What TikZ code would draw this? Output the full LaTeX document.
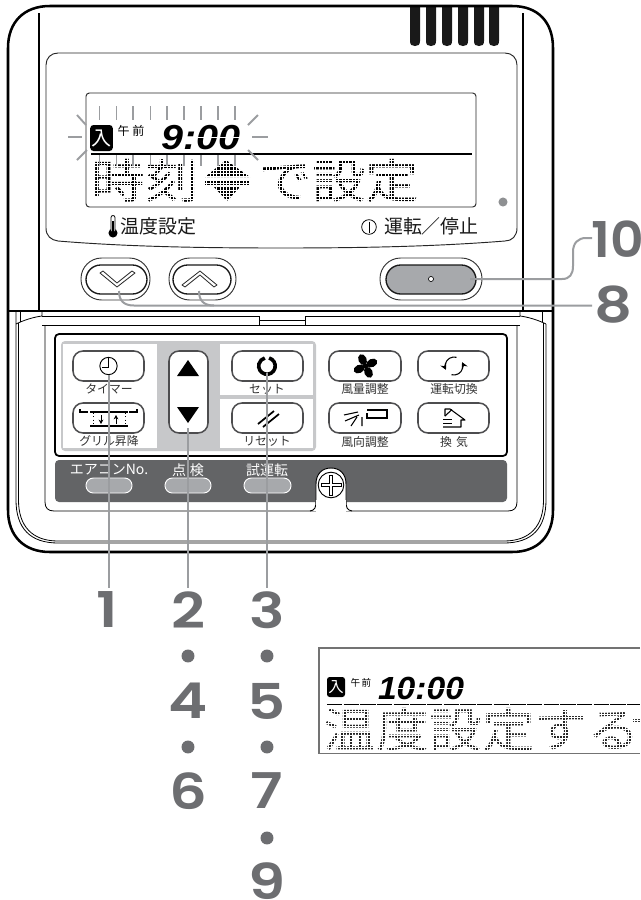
\documentclass[tikz,border=0pt]{standalone}
\usepackage{fontspec}
\usetikzlibrary{arrows.meta}
\newfontfamily\jpf{Noto Sans CJK JP}
\newfontfamily\numf[UprightFont=* SemiBold]{Poppins}
\newfontfamily\segf{Liberation Sans}
\definecolor{leadc}{HTML}{9B9DA0}
\definecolor{numc}{HTML}{6D6E71}
\definecolor{barc}{HTML}{636466}
\definecolor{groupc}{HTML}{C7C8CA}
\definecolor{btnc}{HTML}{A7A9AC}
\definecolor{edgec}{HTML}{4D4D4F}
\newcommand\fs[1]{\fontsize{#1}{#1}\selectfont}
\tikzset{
  x=0.75pt,y=-0.75pt,
  body/.style={line width=1.9pt,black},
  thin line/.style={line width=0.6pt,black},
  leader/.style={draw=leadc,line width=1.5pt},
  keybtn/.style={draw=edgec,line width=1.15pt,fill=white,rounded corners=7.5pt},
  keylabel/.style={font=\jpf\fs{8.9pt},text=black!80,inner sep=0pt},
  barlabel/.style={font=\jpf\fs{10.5pt},text=white,inner sep=0pt},
  smallpill/.style={draw=white,line width=0.7pt,fill=btnc,rounded corners=5.5pt},
  num/.style={font=\numf\fs{37pt},text=numc,inner sep=0pt,xscale=1.2},
  numdot/.style={circle,fill=numc,minimum size=9.7pt,inner sep=0pt},
  ray/.style={draw=leadc,line width=1.4pt},
  lcdjp/.style={font=\jpf\fs{35pt},inner sep=0pt,xscale=1.15},
  panelboxlabel/.style={font=\jpf\fs{14.2pt},inner sep=0pt,text=black!90},
}
\begin{document}
\begin{tikzpicture}
\useasboundingbox (0,0) rectangle (640,900);
\fill[white] (0,0) rectangle (640,900);

%% vent slots
\foreach \a in {410,426,442,458,474,489}{
  \fill[black!90] (\a,5) -- (\a+10,5) -- (\a+10,41) .. controls (\a+10,45) and (\a+8,46) .. (\a+5,46)
     .. controls (\a+2,46) and (\a,45) .. (\a,41) -- cycle;
}
%% outer body
\draw[body] (8,311) -- (8,48) .. controls (8,22) and (24,6) .. (50,6) -- (512,6)
   .. controls (538,6) and (553,22) .. (553,48) -- (553,510)
   .. controls (553,536) and (538,552) .. (512,552) -- (50,552)
   .. controls (24,552) and (8,536) .. (8,510) -- cycle;
\draw[thin line,line width=0.9pt] (39,13) -- (39,311);
\draw[thin line,line width=0.9pt] (523,13) -- (523,311);
\draw[body,line width=1.7pt] (8,311) -- (553,311);

%% lid structure
\draw[thin line] (42,311) -- (42,316) .. controls (34,317) and (24,320) .. (16,324);
\draw[thin line] (20,311) -- (20,322);
\draw[thin line] (16,311) -- (16,500) .. controls (16,528) and (30,543) .. (58,543) -- (504,543)
   .. controls (532,543) and (546,528) .. (546,500) -- (546,324);
\draw[thin line] (18.5,323) -- (18.5,500) .. controls (18.5,526) and (32,541) .. (58,541) -- (504,541)
   .. controls (530,541) and (543.5,526) .. (543.5,500) -- (543.5,323);
\draw[thin line] (542,311) -- (542,322);
\draw[thin line] (520,311) -- (520,316) .. controls (528,317) and (538,320) .. (546,324);
\draw[thin line] (42,316) -- (259,316) -- (259,325) (259,320) -- (305,320) (305,325) -- (305,316) -- (520,316);
\draw[thin line] (42,325) -- (520,325);
\draw[thin line] (45,325) -- (45,502) .. controls (45,508) and (48,511) .. (54,511) -- (508,511)
   .. controls (514,511) and (517,508) .. (517,502) -- (517,325);

%% LCD bezel
\draw[line width=0.7pt,black!85] (46,65) .. controls (46,58) and (51,53) .. (58,53) -- (505,53)
  .. controls (512,53) and (517,58) .. (517,65) -- (517,228) .. controls (517,236) and (512,241) .. (505,241)
  .. controls (430,247) and (350,248) .. (281,248) .. controls (210,248) and (130,247) .. (58,241)
  .. controls (51,240) and (46,236) .. (46,228) -- cycle;
\draw[line width=0.7pt,black!85,rounded corners=2.5pt] (86,93) rectangle (476,207);
\draw[line width=1.2pt,black] (91,154) -- (472,154);

%% LCD top row
\node[fill=black,rounded corners=2.5pt,minimum width=17pt,minimum height=19.5pt,inner sep=0pt,text=white,font=\jpf\fs{15pt}] (lcdicon) at (101.5,138) {入};
\node[font=\jpf\fs{9pt},inner sep=0pt] (ampm) at (131,131) {午\hspace{2pt}前};
\node[font=\segf\bfseries\itshape\fs{26pt},inner sep=0pt,xscale=1.14] (clocktext) at (201,137.5) {9:00};
\draw[white,line width=0.7pt] (198,137.5) -- (242,137.5);

%% LCD dot text
\begin{scope}
  \node[lcdjp] (lcdA) at (145,181) {時刻};
  \node[lcdjp] (lcdB) at (339,181) {で設定};
  \fill[black] (226,160) -- (250,177) -- (205,177) -- cycle;
  \fill[black] (205,181) rectangle (250,185);
  \fill[black] (214,187) -- (240,187) -- (227,201) -- cycle;
  \clip (88,157) rectangle (425,205);
  \foreach \g in {88,91.3,...,425}{\draw[white,line width=0.7pt] (\g,157) -- (\g,205);}
  \foreach \g in {157,160.3,...,205}{\draw[white,line width=0.7pt] (88,\g) -- (425,\g);}
\end{scope}

%% rays
\foreach \a in {99.5,116.5,133,150.5,167,184,201,218,235}{
  \draw[ray] (\a,106) -- (\a,120);
  \draw[ray] (\a,155) -- (\a,166);
}
\draw[ray] (68,137) -- (82,137);
\draw[ray] (77,115) -- (86,125);
\draw[ray] (77,160) -- (87,150);
\draw[ray] (252,137) -- (268,137);
\draw[ray] (248,125) -- (258,115);
\draw[ray] (248,150) -- (258,160);

%% thermometer and panel labels
\fill[black] (113,233) circle[radius=3.4pt];
\draw[black,line width=0.6pt,fill=white] (111,231) -- (111,217.5) arc[start angle=180,end angle=0,radius=1.5pt] -- (115,231);
\fill[black] (112,221) rectangle (114,232);
\node[panelboxlabel,anchor=west] (templabel) at (120,226) {温度設定};
\node[draw=black,line width=0.6pt,circle,minimum size=11pt,inner sep=0pt] (powsym) at (369,227) {};
\draw[line width=0.7pt] (369,221.5) -- (369,232.5);
\node[panelboxlabel,anchor=east] (runlabel) at (479,226) {運転／停止};
\fill[btnc!85!black] (503,202) circle[radius=3.4pt];

%% upper buttons
\draw[line width=0.7pt,black!80,rounded corners=15.5pt] (81,258) rectangle (150,300);
\draw[line width=1pt,black!90,rounded corners=11pt] (86,265) rectangle (147,294);
\draw[line width=0.6pt,black!85,line join=round] (100,273) -- (117,287) -- (135,273) -- (132,271) -- (117,283) -- (103,271) -- cycle;
\draw[line width=0.7pt,black!80,rounded corners=15.5pt] (169,258) rectangle (236,300);
\draw[line width=1pt,black!90,rounded corners=11pt] (173,265) rectangle (231,294);
\draw[line width=0.6pt,black!85,line join=round] (182,285) -- (200,271) -- (217,285) -- (214,287) -- (200,275) -- (185,287) -- cycle;
\draw[line width=0.7pt,black!80,rounded corners=15.5pt] (380,258) rectangle (482,300);
\draw[line width=1pt,black!90,fill=btnc,rounded corners=11pt] (386,265) rectangle (476,294);
\draw[line width=0.5pt,black,fill=white] (431,279) circle[radius=1.9pt];

%% key panel
\draw[line width=1.3pt,black,rounded corners=3pt] (55,334) rectangle (507,456);
\fill[groupc,rounded corners=3pt] (61,341) rectangle (316,451);
\fill[white] (63,344) rectangle (157,448);
\fill[white] (220,344) rectangle (313,395);
\fill[white] (220,399) rectangle (313,448);
\fill[barc,rounded corners=3pt] (55,460) rectangle (507,502);

%% keys
\draw[keybtn] (73,351) rectangle (144,381);
\draw[keybtn] (73,403) rectangle (144,433);
\draw[keybtn] (169,351) rectangle (208,433);
\draw[keybtn] (232,351) rectangle (303,381);
\draw[keybtn] (232,403) rectangle (303,433);
\draw[keybtn] (329,351) rectangle (401,381);
\draw[keybtn] (418,351) rectangle (489,381);
\draw[keybtn] (329,403) rectangle (401,433);
\draw[keybtn] (418,403) rectangle (489,433);

%% key icons
\draw[line width=0.7pt] (108.5,366) circle[radius=6.5pt];
\draw[line width=0.7pt] (108.5,358) -- (108.5,367) -- (102,367);
\fill[black] (188,360) -- (199,376) -- (177,376) -- cycle;
\fill[black] (177,407) -- (199,407) -- (188,423) -- cycle;
\draw[line width=2.7pt] (269.1,358) arc[start angle=75,end angle=-255,radius=6.2pt];
\draw[line width=1.3pt] (258,424) -- (274,411) (263,427) -- (279,414);
%% grille icon
\draw[line width=1.2pt] (80,409) -- (80,412) -- (88,412) (90,412) -- (128,412) (129,412) -- (137,412) -- (137,409);
\draw[line width=1.5pt] (90,425.5) -- (128,425.5);
\draw[line width=0.5pt,dotted] (93,413) -- (93,425) (125,413) -- (125,425);
\draw[line width=0.7pt,-{Stealth[length=3.3pt,width=3.6pt]}] (101,415) -- (101,424);
\draw[line width=0.7pt,-{Stealth[length=3.3pt,width=3.6pt]}] (116,424) -- (116,415);
%% fan
\coordinate (fanc) at (365.5,366);
\foreach \a in {25,115,205,295}{
  \fill[black,rotate around={\a:(fanc)}] (365.5+7,366) ellipse[x radius=4.3pt,y radius=3.1pt];
}
\fill[black] (fanc) circle[radius=2.1pt];
%% cycle arrows
\draw[line width=0.8pt,-{Stealth[length=4.6pt,width=4.8pt]}] (456.5,357.3) arc[start angle=75,end angle=205,radius=6.8pt];
\draw[line width=0.8pt,-{Stealth[length=4.6pt,width=4.8pt]}] (451.5,374.7) arc[start angle=255,end angle=385,radius=6.8pt];
%% air direction icon
\draw[line width=0.8pt] (367,410) -- (387,410) -- (387,418) -- (367,418) -- (367,413);
\draw[line width=0.8pt] (344,415) -- (358,412) (345,421) -- (359,415) (351,426) -- (357,417) (362,417) -- (362,426);
%% house icon
\draw[line width=0.8pt,line join=round] (445,416) -- (445,409) -- (450,409) -- (465,420) -- (461,420) -- (461,427) -- (443,427);
\draw[line width=0.8pt] (445,416) -- (452,409.5);
\draw[line width=0.7pt] (443,419) -- (452,419) (443,423) -- (452,423);

%% key labels
\node[keylabel] (ktimer) at (109,389) {タイマー};
\node[keylabel] (kgrill) at (109,441) {グリル昇降};
\node[keylabel] (kset) at (267,389) {セット};
\node[keylabel] (kreset) at (267,441) {リセット};
\node[keylabel] (kfan) at (365,389) {風量調整};
\node[keylabel] (kswitch) at (454,389) {運転切換};
\node[keylabel] (kdir) at (365,442) {風向調整};
\node[keylabel] (kvent) at (454,442) {換\hspace{3pt}気};

%% bar
\node[barlabel] (bac) at (109,470) {エアコンNo.};
\node[barlabel] (bchk) at (188,470) {点\hspace{3pt}検};
\node[barlabel] (btest) at (267,470) {試運転};
\draw[smallpill] (86,478) rectangle (132,493);
\draw[smallpill] (165,478) rectangle (211,493);
\draw[smallpill] (244,478) rectangle (291,493);

%% screw
\draw[line width=0.7pt,black,fill=white] (310,511) .. controls (315,510) and (316,508) .. (316,500) -- (316,484)
   .. controls (316,474) and (322,468) .. (331,468) .. controls (340,468) and (346,474) .. (346,484)
   -- (346,500) .. controls (346,508) and (347,510) .. (352,511);
\fill[white] (316.4,500) rectangle (345.6,511.5);
\draw[line width=0.7pt] (331,485) circle[radius=9.6pt];
\draw[line width=0.5pt,fill=white] (329.3,475) -- (332.7,475) -- (332.7,483.3) -- (341,483.3) -- (341,486.7) -- (332.7,486.7) -- (332.7,495) -- (329.3,495) -- (329.3,486.7) -- (321,486.7) -- (321,483.3) -- (329.3,483.3) -- cycle;

%% second display
\draw[line width=1pt,black!55] (640,648) -- (319,648) -- (319,753.5) -- (640,753.5);
\node[fill=black,rounded corners=2pt,minimum width=13.5pt,minimum height=15pt,inner sep=0pt,text=white,font=\jpf\fs{11.5pt}] (lcdicon2) at (336,687) {入};
\node[font=\jpf\fs{7.2pt},inner sep=0pt] (ampm2) at (361,682.5) {午\hspace{1pt}前};
\node[font=\segf\bfseries\itshape\fs{24pt},inner sep=0pt,xscale=1.05] (clocktext2) at (421,688.5) {10:00};
\draw[white,line width=0.6pt] (392,688.5) -- (464,688.5);
\draw[line width=1.1pt,dash pattern=on 11.5pt off 1pt] (327,704.5) -- (640,704.5);
\begin{scope}
  \node[lcdjp,xscale=0.983,text=black!85] (lcdC) at (482,730) {温度設定する};
  \fill[black!80] (633,719) rectangle (640,722);
  \clip (322,708) rectangle (640,752);
  \foreach \g in {322,325,...,640}{\draw[white,line width=0.55pt] (\g,708) -- (\g,752);}
  \foreach \g in {708,711,...,752}{\draw[white,line width=0.55pt] (322,\g) -- (640,\g);}
\end{scope}

%% step numbers
\node[num] (n1) at (107,610) {1};
\node[num] (n2) at (188,610) {2};
\node[num] (n3) at (267,610) {3};
\node[numdot] (d2a) at (188,656) {};
\node[numdot] (d3a) at (267,656) {};
\node[num] (n4) at (188,701) {4};
\node[num] (n5) at (267,701) {5};
\node[numdot] (d2b) at (188,747) {};
\node[numdot] (d3b) at (267,747) {};
\node[num] (n6) at (188,791) {6};
\node[num] (n7) at (267,791) {7};
\node[numdot] (d3c) at (267,838) {};
\node[num] (n9) at (267,881) {9};
\node[num,xscale=0.88] (n10) at (618,239) {10};
\node[num] (n8) at (614,305) {8};

%% leaders
\coordinate (c1) at (109,375);
\coordinate (c1e) at (109,588);
\coordinate (c2) at (188,428);
\coordinate (c2e) at (188,588);
\coordinate (c3) at (267,373);
\coordinate (c3e) at (267,588);
\coordinate (c8a) at (119,291);
\coordinate (c8b) at (199,291);
\coordinate (c8e) at (592,305.5);
\coordinate (c10) at (470,279);
\coordinate (c10e) at (592,238);
\draw[leader] (c1) -- (c1e);
\draw[leader] (c2) -- (c2e);
\draw[leader] (c3) -- (c3e);
\draw[leader] (c8a) .. controls (119,301) and (124,305.5) .. (134,305.5) -- (c8e);
\draw[leader] (c8b) .. controls (199,301) and (204,305.5) .. (214,305.5);
\draw[leader] (c10) -- (562,279) .. controls (570,279) and (573,274) .. (573,266) -- (573,252) .. controls (573,243) and (578,238) .. (586,238) -- (c10e);
\end{tikzpicture}
\end{document}
